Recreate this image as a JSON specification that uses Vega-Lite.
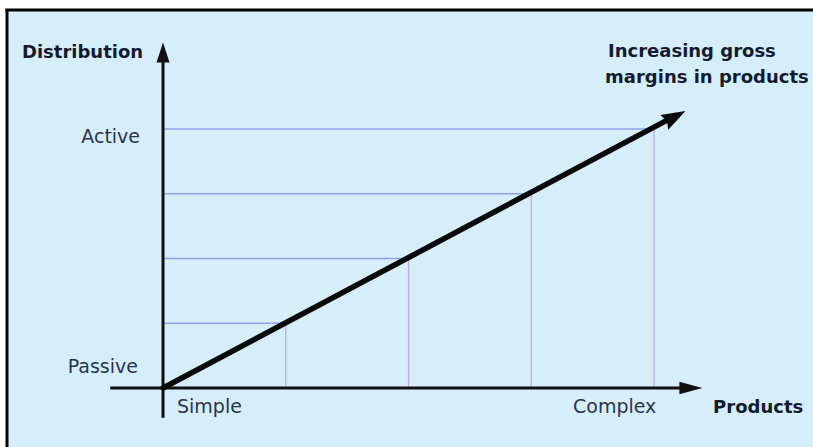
{
  "$schema": "https://vega.github.io/schema/vega-lite/v6.json",
  "width": 813,
  "height": 447,
  "padding": 0,
  "autosize": {"type": "none"},
  "background": "#ffffff",
  "view": {"stroke": null},
  "datasets": {
    "frame": [{"x": -1.271, "x2": 5.4, "y": -1.0, "y2": 5.838}],
    "border": [
      {"x": -1.285, "x2": 5.4, "y": 5.838, "y2": 5.838},
      {"x": -1.271, "x2": -1.271, "y": -1.0, "y2": 5.838}
    ],
    "grid": [
      {"origin": 0, "level": 1},
      {"origin": 0, "level": 2},
      {"origin": 0, "level": 3},
      {"origin": 0, "level": 4}
    ],
    "axes": [
      {"x": -0.43, "x2": 4.25, "y": 0, "y2": 0},
      {"x": 0, "x2": 0, "y": -0.46, "y2": 5.1}
    ],
    "trend": [{"x": 0, "x2": 4.1, "y": 0, "y2": 4.13}],
    "heads": [
      {"x": 4.17, "y": 4.19, "head": "trend"},
      {"x": 4.3, "y": 0, "head": "xaxis"},
      {"x": 0, "y": 5.18, "head": "yaxis"}
    ],
    "labels": [
      {"label": "Active", "x": -0.187, "y": 3.784, "kind": "yleft"},
      {"label": "Passive", "x": -0.204, "y": 0.232, "kind": "yleft"},
      {"label": "Simple", "x": 0.114, "y": -0.386, "kind": "xlab"},
      {"label": "Complex", "x": 3.34, "y": -0.386, "kind": "xlab"},
      {"label": "Products", "x": 4.481, "y": -0.386, "kind": "title"},
      {"label": "Distribution", "x": -1.149, "y": 5.097, "kind": "title"},
      {"label": "Increasing gross", "x": 3.625, "y": 5.112, "kind": "title"},
      {"label": "margins in products", "x": 3.601, "y": 4.71, "kind": "title"}
    ]
  },
  "layer": [
    {
      "data": {"name": "frame"},
      "mark": {"type": "rect", "fill": "#d5eef9", "strokeWidth": 0},
      "encoding": {
        "x": {"field": "x", "type": "quantitative", "scale": {"domain": [-1.328, 5.295], "nice": false, "zero": false}, "axis": null},
        "x2": {"field": "x2"},
        "y": {"field": "y", "type": "quantitative", "scale": {"domain": [-0.911, 5.992], "nice": false, "zero": false}, "axis": null},
        "y2": {"field": "y2"}
      }
    },
    {
      "data": {"name": "border"},
      "mark": {"type": "rule", "stroke": "#000000", "strokeWidth": 3},
      "encoding": {
        "x": {"field": "x", "type": "quantitative"},
        "x2": {"field": "x2"},
        "y": {"field": "y", "type": "quantitative"},
        "y2": {"field": "y2"}
      }
    },
    {
      "data": {"name": "grid"},
      "mark": {"type": "rule", "stroke": "#7f8ee6", "strokeWidth": 1.3, "opacity": 0.8},
      "encoding": {
        "x": {"field": "origin", "type": "quantitative"},
        "x2": {"field": "level"},
        "y": {"field": "level", "type": "quantitative"}
      }
    },
    {
      "data": {"name": "grid"},
      "mark": {"type": "rule", "stroke": "#c594dc", "strokeWidth": 1.3, "opacity": 0.8},
      "encoding": {
        "x": {"field": "level", "type": "quantitative"},
        "y": {"field": "origin", "type": "quantitative"},
        "y2": {"field": "level"}
      }
    },
    {
      "data": {"name": "axes"},
      "mark": {"type": "rule", "stroke": "#111111", "strokeWidth": 3},
      "encoding": {
        "x": {"field": "x", "type": "quantitative"},
        "x2": {"field": "x2"},
        "y": {"field": "y", "type": "quantitative"},
        "y2": {"field": "y2"}
      }
    },
    {
      "data": {"name": "trend"},
      "mark": {"type": "rule", "stroke": "#0a0a0a", "strokeWidth": 5.5, "strokeCap": "round"},
      "encoding": {
        "x": {"field": "x", "type": "quantitative"},
        "x2": {"field": "x2"},
        "y": {"field": "y", "type": "quantitative"},
        "y2": {"field": "y2"}
      }
    },
    {
      "data": {"name": "heads"},
      "transform": [{"filter": "datum.head === 'trend'"}],
      "mark": {"type": "point", "filled": true, "color": "#0a0a0a", "opacity": 1, "shape": "M1,0L-1,-0.7L-0.75,0L-1,0.7Z", "size": 576, "angle": -28},
      "encoding": {
        "x": {"field": "x", "type": "quantitative"},
        "y": {"field": "y", "type": "quantitative"}
      }
    },
    {
      "data": {"name": "heads"},
      "transform": [{"filter": "datum.head === 'xaxis'"}],
      "mark": {"type": "point", "filled": true, "color": "#111111", "opacity": 1, "shape": "M1,0L-1,-0.55L-1,0.55Z", "size": 529},
      "encoding": {
        "x": {"field": "x", "type": "quantitative"},
        "y": {"field": "y", "type": "quantitative"}
      }
    },
    {
      "data": {"name": "heads"},
      "transform": [{"filter": "datum.head === 'yaxis'"}],
      "mark": {"type": "point", "filled": true, "color": "#111111", "opacity": 1, "shape": "M0,-1L0.65,1L-0.65,1Z", "size": 400},
      "encoding": {
        "x": {"field": "x", "type": "quantitative"},
        "y": {"field": "y", "type": "quantitative"}
      }
    },
    {
      "data": {"name": "labels"},
      "transform": [{"filter": "datum.kind === 'yleft'"}],
      "mark": {"type": "text", "align": "right", "baseline": "alphabetic", "font": "DejaVu Sans", "fontSize": 19, "color": "#2a3450"},
      "encoding": {
        "x": {"field": "x", "type": "quantitative"},
        "y": {"field": "y", "type": "quantitative"},
        "text": {"field": "label", "type": "nominal"}
      }
    },
    {
      "data": {"name": "labels"},
      "transform": [{"filter": "datum.kind === 'xlab'"}],
      "mark": {"type": "text", "align": "left", "baseline": "alphabetic", "font": "DejaVu Sans", "fontSize": 19, "color": "#2a3450"},
      "encoding": {
        "x": {"field": "x", "type": "quantitative"},
        "y": {"field": "y", "type": "quantitative"},
        "text": {"field": "label", "type": "nominal"}
      }
    },
    {
      "data": {"name": "labels"},
      "transform": [{"filter": "datum.kind === 'title'"}],
      "mark": {"type": "text", "align": "left", "baseline": "alphabetic", "font": "DejaVu Sans", "fontWeight": "bold", "fontSize": 18, "color": "#141a30"},
      "encoding": {
        "x": {"field": "x", "type": "quantitative"},
        "y": {"field": "y", "type": "quantitative"},
        "text": {"field": "label", "type": "nominal"}
      }
    }
  ]
}
